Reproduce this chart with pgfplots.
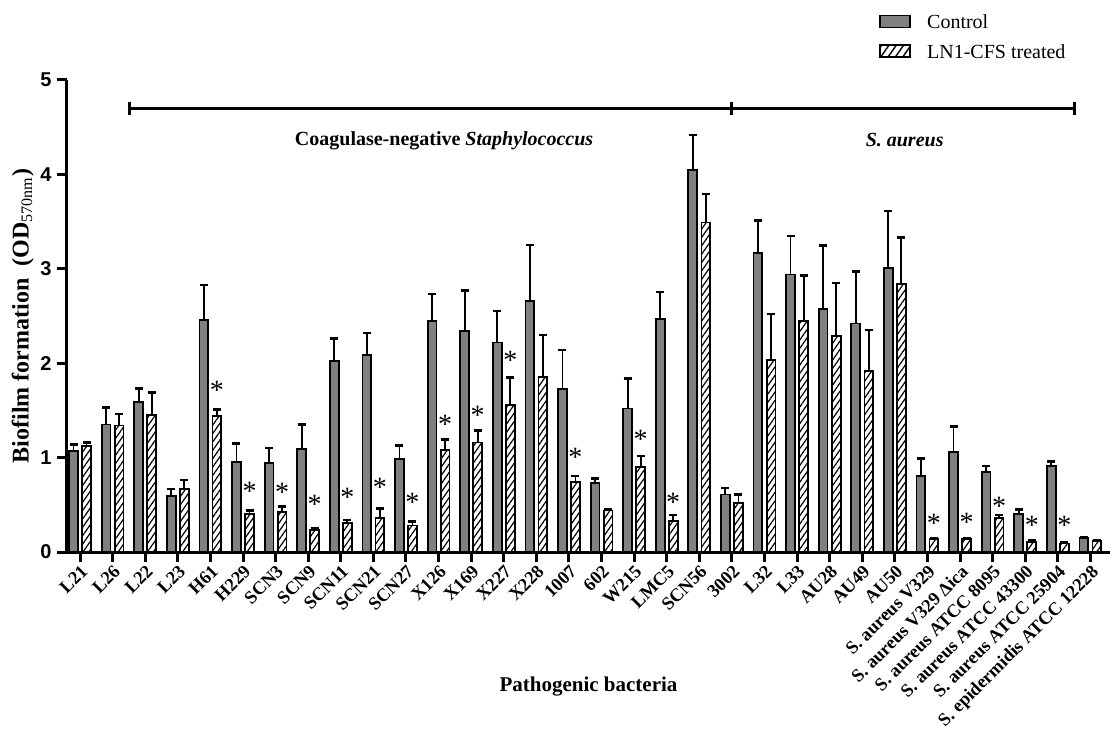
\documentclass[border=0pt]{standalone}
\usepackage{fontspec}
\setmainfont{Liberation Serif}
\newfontfamily\arialfont{Liberation Sans}
\usepackage{pgfplots}
\pgfplotsset{compat=1.18}
\usetikzlibrary{patterns.meta}

\begin{document}
\begin{tikzpicture}
\begin{axis}[
    name=ax,
    ybar, bar width=0.27,
    scale only axis, width=521.5pt, height=236pt,
    xmin=-0.4, xmax=31.6, ymin=0, ymax=5,
    axis x line=bottom, axis y line=left,
    axis line style={-, line width=1.5pt},
    tick align=outside, major tick length=5pt,
    tick style={line width=1.5pt, black},
    xtick={0,...,31},
    xticklabels={L21, L26, L22, L23, H61, H229, SCN3, SCN9, SCN11, SCN21, SCN27,
        X126, X169, X227, X228, 1007, 602, W215, LMC5, SCN56, 3002, L32, L33,
        AU28, AU49, AU50, S. aureus V329, S. aureus V329 Δica,
        S. aureus ATCC 8095, S. aureus ATCC 43300, S. aureus ATCC 25904,
        S. epidermidis ATCC 12228},
    x tick label style={rotate=45, anchor=north east, inner sep=0.5pt,
        font=\bfseries\fontsize{9.2}{9.2}\selectfont},
    ytick={0,...,5}, yticklabels={0,1,2,3,4,5},
    y tick label style={font=\arialfont\bfseries\fontsize{10}{10}\selectfont, inner sep=1pt, xshift=-1.5pt},
    xlabel={Pathogenic bacteria},
    xlabel style={font=\bfseries\fontsize{10.5}{10.5}\selectfont,
        at={(axis description cs:0.5,-0.286)}, anchor=center},
    ylabel={Biofilm formation\ \ (OD$_{\mathrm{570nm}}$)},
    ylabel style={font=\bfseries\fontsize{12}{12}\selectfont,
        at={(axis description cs:-0.0425,0.5)}, anchor=center},
    clip=false,
    legend style={at={(axis description cs:0.7785,1.148)}, anchor=north west,
        draw=none, fill=none, inner sep=0pt, row sep=4pt,
        font=\fontsize{10}{10}\selectfont,
        nodes={inner sep=2pt, text depth=0pt}},
    legend cell align=left,
    error bars/error bar style={line width=0.9pt, black},
    error bars/error mark options={rotate=90, mark size=2pt, line width=1.2pt, black},
]
% control
\addplot[bar shift=-0.2, fill=black!50, draw=black, line width=0.9pt,
    error bars/.cd, y dir=plus, y explicit,
    /pgfplots/legend image code/.code={\draw[fill=black!50, draw=black, line width=0.9pt] (0pt,-3pt) rectangle (15pt,3pt); \path (21pt,0pt);}]
coordinates {
(0,1.07) +- (0,0.07)
(1,1.35) +- (0,0.18)
(2,1.59) +- (0,0.14)
(3,0.59) +- (0,0.08)
(4,2.46) +- (0,0.37)
(5,0.95) +- (0,0.20)
(6,0.94) +- (0,0.16)
(7,1.09) +- (0,0.26)
(8,2.02) +- (0,0.24)
(9,2.09) +- (0,0.23)
(10,0.985) +- (0,0.145)
(11,2.45) +- (0,0.28)
(12,2.34) +- (0,0.43)
(13,2.22) +- (0,0.33)
(14,2.66) +- (0,0.59)
(15,1.73) +- (0,0.41)
(16,0.73) +- (0,0.05)
(17,1.52) +- (0,0.32)
(18,2.47) +- (0,0.285)
(19,4.05) +- (0,0.37)
(20,0.61) +- (0,0.07)
(21,3.17) +- (0,0.34)
(22,2.94) +- (0,0.41)
(23,2.57) +- (0,0.675)
(24,2.42) +- (0,0.55)
(25,3.01) +- (0,0.60)
(26,0.805) +- (0,0.185)
(27,1.06) +- (0,0.27)
(28,0.85) +- (0,0.06)
(29,0.40) +- (0,0.05)
(30,0.91) +- (0,0.05)
(31,0.15) +- (0,0.01)
};
\addlegendentry{Control}
% treated
\addplot[bar shift=0.2, draw=black, line width=0.9pt,
    pattern={Lines[angle=55, distance=2.4pt, line width=0.6pt]},
    error bars/.cd, y dir=plus, y explicit,
    /pgfplots/legend image code/.code={\draw[draw=black, line width=0.9pt, pattern={Lines[angle=55, distance=3pt, line width=0.7pt]}] (0pt,-3pt) rectangle (15pt,3pt); \path (21pt,0pt);}]
coordinates {
(0,1.12) +- (0,0.04)
(1,1.34) +- (0,0.12)
(2,1.45) +- (0,0.24)
(3,0.67) +- (0,0.09)
(4,1.44) +- (0,0.07)
(5,0.40) +- (0,0.04)
(6,0.42) +- (0,0.06)
(7,0.23) +- (0,0.02)
(8,0.31) +- (0,0.03)
(9,0.36) +- (0,0.10)
(10,0.28) +- (0,0.045)
(11,1.08) +- (0,0.11)
(12,1.16) +- (0,0.125)
(13,1.56) +- (0,0.29)
(14,1.85) +- (0,0.45)
(15,0.745) +- (0,0.06)
(16,0.44) +- (0,0.01)
(17,0.90) +- (0,0.12)
(18,0.33) +- (0,0.06)
(19,3.49) +- (0,0.30)
(20,0.52) +- (0,0.09)
(21,2.03) +- (0,0.49)
(22,2.45) +- (0,0.48)
(23,2.285) +- (0,0.565)
(24,1.92) +- (0,0.43)
(25,2.835) +- (0,0.495)
(26,0.14) +- (0,0.01)
(27,0.14) +- (0,0.01)
(28,0.36) +- (0,0.03)
(29,0.11) +- (0,0.01)
(30,0.09) +- (0,0.01)
(31,0.12) +- (0,0.01)
};
\addlegendentry{LN1-CFS treated}
% significance stars (centre of each asterisk)
\addplot[forget plot, bar shift=0.2, draw=none, fill=none,
    nodes near coords={\fontsize{14}{14}\selectfont *},
    every node near coord/.append style={anchor=center, inner sep=0pt, yshift=-2.3pt}]
coordinates {
(4,1.76) (5,0.69) (6,0.68) (7,0.55) (8,0.63) (9,0.73) (10,0.57)
(11,1.40) (12,1.50) (13,2.08) (15,1.05) (17,1.24) (18,0.57)
(26,0.35) (27,0.36) (28,0.53) (29,0.33) (30,0.33)
};
% group bracket
\draw[line width=1.5pt] (axis cs:1.53,4.70) -- (axis cs:30.5,4.70);
\draw[line width=1.5pt] (axis cs:1.53,4.63) -- (axis cs:1.53,4.77);
\draw[line width=1.5pt] (axis cs:20,4.63) -- (axis cs:20,4.77);
\draw[line width=1.5pt] (axis cs:30.5,4.63) -- (axis cs:30.5,4.77);
\node[font=\bfseries\fontsize{10}{10}\selectfont] at (axis cs:11.17,4.36)
    {Coagulase-negative \textit{Staphylococcus}};
\node[font=\bfseries\fontsize{10}{10}\selectfont] at (axis cs:25.3,4.36)
    {\textit{S. aureus}};
\end{axis}
\pgfresetboundingbox
\path[use as bounding box] (ax.south west) ++(-33.5pt,-88.5pt) rectangle ++(558pt,364.5pt);
\end{tikzpicture}
\end{document}
